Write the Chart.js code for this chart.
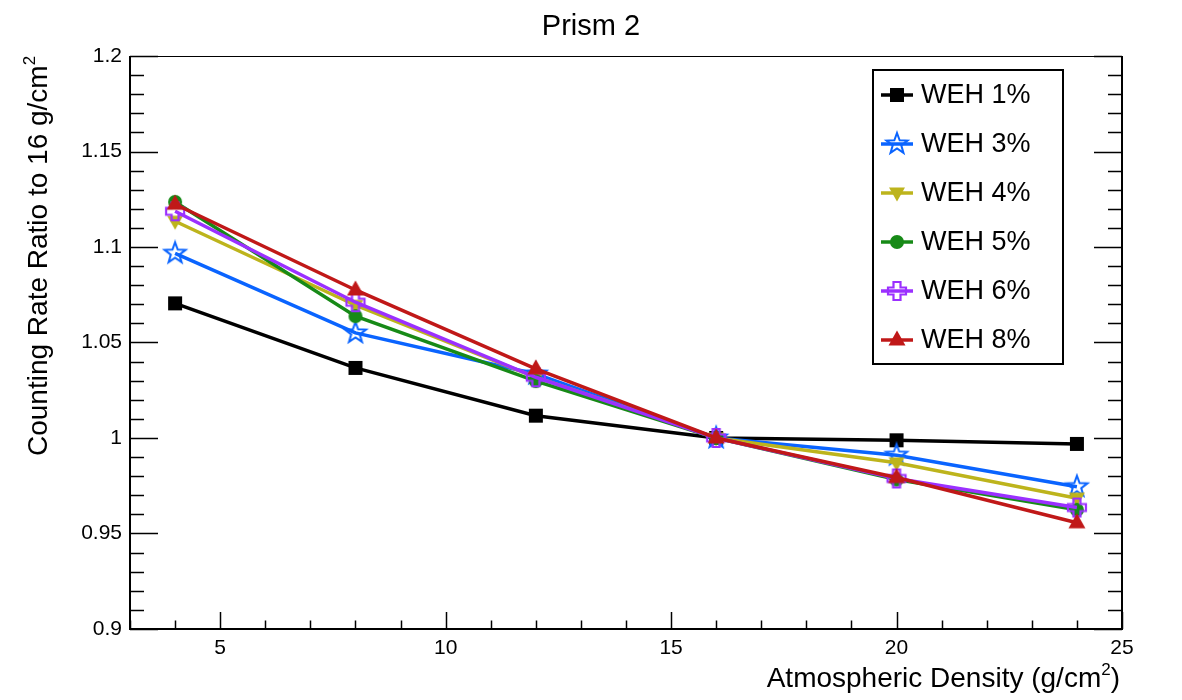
<!DOCTYPE html>
<html><head><meta charset="utf-8">
<script src="https://cdn.jsdelivr.net/npm/chart.js@4/dist/chart.umd.min.js"></script>
<style>html,body{margin:0;padding:0;background:#fff}#wrap{width:1182px;height:700px}</style>
</head><body><div id="wrap"><canvas id="c" width="1182" height="700"></canvas></div>
<script>
const xValues = [4, 8, 12, 16, 20, 24];
const weh1 = [1.0705, 1.0367, 1.0117, 1.0, 0.9988, 0.9969];
const weh3 = [1.0967, 1.0550, 1.0335, 1.0, 0.9910, 0.9745];
const weh4 = [1.1135, 1.0695, 1.0318, 1.0, 0.9870, 0.9685];
const weh5 = [1.1236, 1.0638, 1.0298, 1.0, 0.9782, 0.9624];
const weh6 = [1.1187, 1.0711, 1.0318, 1.0, 0.9788, 0.9636];
const weh8 = [1.1224, 1.0775, 1.0362, 1.0, 0.9793, 0.9556];
const seriesNames = ['WEH 1%', 'WEH 3%', 'WEH 4%', 'WEH 5%', 'WEH 6%', 'WEH 8%'];
const xTickValues = [5, 10, 15, 20, 25];
const xTickLabels = ['5', '10', '15', '20', '25'];
const yTickValues = [0.9, 0.95, 1.0, 1.05, 1.1, 1.15, 1.2];
const yTickLabels = ['0.9', '0.95', '1', '1.05', '1.1', '1.15', '1.2'];

const FONT = '"Liberation Sans", Arial, Helvetica, sans-serif';
const colors = ['#000000', '#0a64ff', '#bdb41c', '#178a17', '#9b30ff', '#c01818'];

function mk(w, h, fn) {
  const c = document.createElement('canvas'); c.width = w; c.height = h;
  const g = c.getContext('2d'); fn(g, w / 2, h / 2); return c;
}
const markers = [
  mk(16, 16, (g, cx, cy) => { g.fillStyle = colors[0]; g.fillRect(cx - 7, cy - 7, 14, 14); }),
  mk(28, 28, (g, cx, cy) => {
    g.strokeStyle = colors[1]; g.lineWidth = 2; g.beginPath();
    for (let i = 0; i < 10; i++) {
      const r = i % 2 ? 4.5 : 11; const a = -Math.PI / 2 + i * Math.PI / 5;
      const px = cx + r * Math.cos(a), py = cy + r * Math.sin(a);
      i ? g.lineTo(px, py) : g.moveTo(px, py);
    }
    g.closePath(); g.stroke();
  }),
  mk(20, 20, (g, cx, cy) => {
    g.fillStyle = colors[2]; g.beginPath();
    g.moveTo(cx - 8, cy - 5.5); g.lineTo(cx + 8, cy - 5.5); g.lineTo(cx, cy + 8.5); g.closePath(); g.fill();
  }),
  mk(18, 18, (g, cx, cy) => { g.fillStyle = colors[3]; g.beginPath(); g.arc(cx, cy, 7, 0, Math.PI * 2); g.fill(); }),
  mk(24, 24, (g, cx, cy) => {
    const a = 3.5, L = 9; g.strokeStyle = colors[4]; g.lineWidth = 2.2; g.beginPath();
    const pts = [[-a,-L],[a,-L],[a,-a],[L,-a],[L,a],[a,a],[a,L],[-a,L],[-a,a],[-L,a],[-L,-a],[-a,-a]];
    pts.forEach((p, i) => i ? g.lineTo(cx + p[0], cy + p[1]) : g.moveTo(cx + p[0], cy + p[1]));
    g.closePath(); g.stroke();
  }),
  mk(20, 20, (g, cx, cy) => {
    g.fillStyle = colors[5]; g.beginPath();
    g.moveTo(cx, cy - 9.5); g.lineTo(cx + 8.5, cy + 5.5); g.lineTo(cx - 8.5, cy + 5.5); g.closePath(); g.fill();
  })
];

const allSeries = [weh1, weh3, weh4, weh5, weh6, weh8];
const datasets = allSeries.map((s, i) => ({
  label: seriesNames[i],
  data: xValues.map((x, j) => ({ x: x, y: s[j] })),
  showLine: true,
  borderColor: colors[i],
  backgroundColor: colors[i],
  borderWidth: 3.5,
  pointStyle: markers[i],
  pointRadius: 7,
  pointHoverRadius: 7,
  order: allSeries.length - i,
  clip: false
}));

function supText(ctx, parts, x, y, align) {
  const base = ctx.font;
  const widths = parts.map(p => { ctx.font = p.sup ? p.supFont : base; const w = ctx.measureText(p.t).width; ctx.font = base; return w; });
  const total = widths.reduce((a, b) => a + b, 0);
  let cx = align === 'right' ? x - total : (align === 'center' ? x - total / 2 : x);
  ctx.textAlign = 'left';
  parts.forEach((p, i) => {
    ctx.font = p.sup ? p.supFont : base;
    ctx.fillText(p.t, cx, p.sup ? y - p.rise : y);
    cx += widths[i];
  });
  ctx.font = base;
}

const rootPlugin = {
  id: 'rootStyle',
  afterDraw(chart) {
    const ctx = chart.ctx, a = chart.chartArea;
    const xs = chart.scales.x, ys = chart.scales.y;
    ctx.save();
    ctx.strokeStyle = '#000';
    ctx.lineWidth = 1;
    ctx.beginPath(); ctx.moveTo(a.left, a.top + 0.5); ctx.lineTo(a.right, a.top + 0.5); ctx.stroke();
    ctx.lineWidth = 2;
    ctx.beginPath();
    ctx.moveTo(a.left, a.top); ctx.lineTo(a.left, a.bottom); ctx.lineTo(a.right, a.bottom); ctx.lineTo(a.right, a.top);
    ctx.stroke();
    ctx.lineWidth = 1.5;
    for (let v = 3; v <= 25; v += 1) {
      const px = Math.round(xs.getPixelForValue(v)) + 0.5;
      const len = (v % 5 === 0) ? 17 : 8.5;
      ctx.beginPath(); ctx.moveTo(px, a.bottom); ctx.lineTo(px, a.bottom - len); ctx.stroke();
    }
    for (let k = 0; k <= 30; k++) {
      const v = 0.9 + k * 0.01;
      const py = Math.round(ys.getPixelForValue(v)) + 0.5;
      const len = (k % 5 === 0) ? 28 : 14;
      ctx.beginPath(); ctx.moveTo(a.left, py); ctx.lineTo(a.left + len, py);
      ctx.moveTo(a.right, py); ctx.lineTo(a.right - len, py); ctx.stroke();
    }
    ctx.fillStyle = '#000';
    ctx.font = '29px ' + FONT;
    ctx.textAlign = 'center'; ctx.textBaseline = 'alphabetic';
    ctx.fillText('Prism 2', 591, 35);
    ctx.font = '28px ' + FONT;
    supText(ctx, [{ t: 'Atmospheric Density (g/cm' }, { t: '2', sup: true, supFont: '17px ' + FONT, rise: 12 }, { t: ')' }], 1120, 687, 'right');
    ctx.save();
    ctx.translate(47, 456);
    ctx.rotate(-Math.PI / 2);
    ctx.font = '28px ' + FONT;
    supText(ctx, [{ t: 'Counting Rate Ratio to 16 g/cm' }, { t: '2', sup: true, supFont: '17px ' + FONT, rise: 12 }], 0, 0, 'left');
    ctx.restore();
    const lx = 873, ly = 70, lw = 190, lh = 294;
    ctx.fillStyle = '#fff'; ctx.fillRect(lx, ly, lw, lh);
    ctx.lineWidth = 2; ctx.strokeStyle = '#000'; ctx.strokeRect(lx, ly, lw, lh);
    ctx.font = '27px ' + FONT; ctx.textAlign = 'left'; ctx.textBaseline = 'middle';
    seriesNames.forEach((n, i) => {
      const cy = 95 + i * 49;
      ctx.strokeStyle = colors[i]; ctx.lineWidth = 3.5;
      ctx.beginPath(); ctx.moveTo(881, cy); ctx.lineTo(913, cy); ctx.stroke();
      const m = markers[i];
      ctx.drawImage(m, 897 - m.width / 2, cy - m.height / 2);
      ctx.fillStyle = '#000';
      ctx.fillText(n, 921, cy + 1);
    });
    ctx.restore();
  }
};

new Chart(document.getElementById('c'), {
  type: 'scatter',
  data: { datasets: datasets },
  options: {
    responsive: false,
    animation: false,
    devicePixelRatio: 1,
    layout: { padding: { top: 56, right: 60, left: 0, bottom: 0 } },
    plugins: { legend: { display: false }, tooltip: { enabled: false }, title: { display: false } },
    scales: {
      x: {
        type: 'linear', min: 3, max: 25,
        grid: { display: false, drawTicks: false },
        border: { display: false },
        afterBuildTicks: s => { s.ticks = xTickValues.map(v => ({ value: v })); },
        afterFit: s => { s.height = 71; },
        ticks: {
          autoSkip: false, maxRotation: 0, padding: 7, color: '#000',
          font: { family: FONT, size: 21 },
          callback: v => { const i = xTickValues.indexOf(v); return i >= 0 ? xTickLabels[i] : ''; }
        }
      },
      y: {
        type: 'linear', min: 0.9, max: 1.2,
        grid: { display: false, drawTicks: false },
        border: { display: false },
        afterBuildTicks: s => { s.ticks = yTickValues.map(v => ({ value: v })); },
        afterFit: s => { s.width = 130; },
        ticks: {
          autoSkip: false, padding: 8, color: '#000',
          font: { family: FONT, size: 21 },
          callback: v => { const i = yTickValues.findIndex(t => Math.abs(t - v) < 1e-9); return i >= 0 ? yTickLabels[i] : ''; }
        }
      }
    }
  },
  plugins: [rootPlugin]
});
</script>
</body></html>
